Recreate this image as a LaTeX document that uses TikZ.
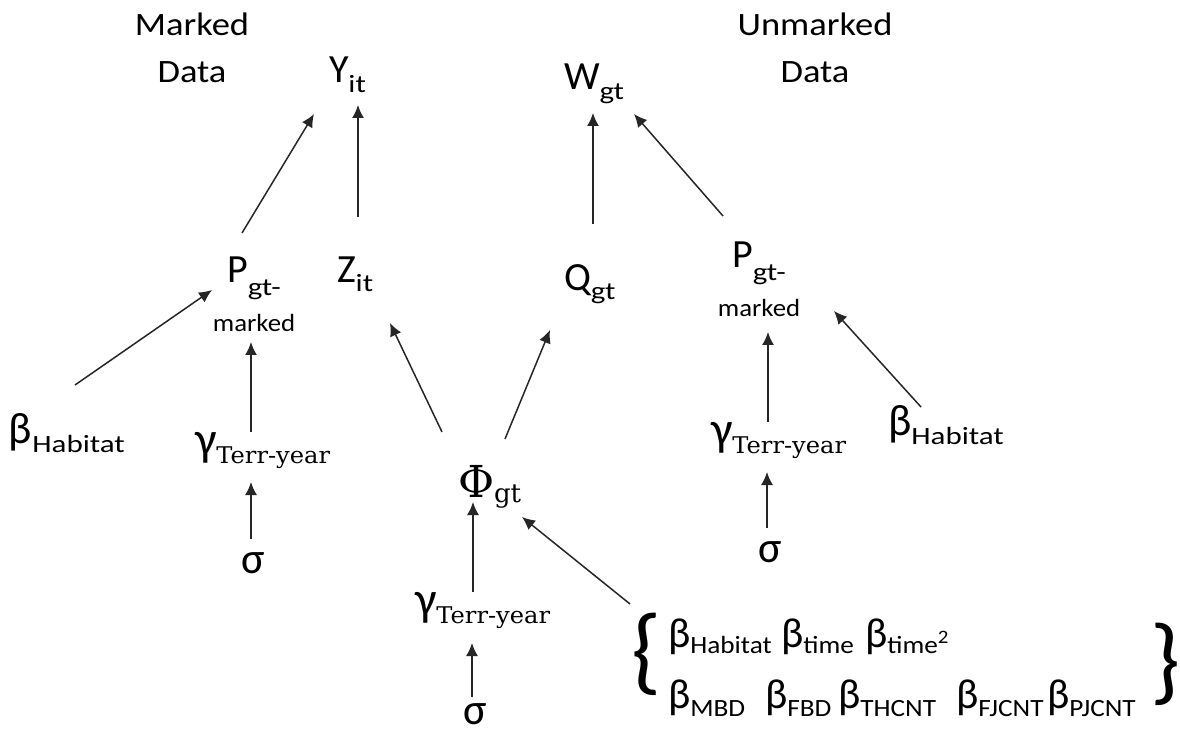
\documentclass[tikz,border=0pt]{standalone}
\usepackage{fontspec}
\setmainfont{Carlito}
\newfontfamily\subf[FakeStretch=1.25]{Carlito}
\newfontfamily\gsbf[FakeStretch=1.1]{Carlito}
\newfontfamily\mkf[FakeStretch=1.08]{Carlito}
\newfontfamily\titf[FakeStretch=1.12]{Carlito}
\newfontfamily\tyf[FakeStretch=1.05]{DejaVu Serif}
\newfontfamily\serf{DejaVu Serif}
\usetikzlibrary{arrows.meta,calc}

\newcommand\mainf{\fontsize{20}{24}\selectfont}
\newcommand\grk[2]{{\fontsize{#1}{24}\selectfont #2}}
\newcommand\sbs[2][4.8pt]{\raisebox{-#1}{\subf\fontsize{12.4}{14}\selectfont #2}}
\newcommand\gsb[2][4pt]{\raisebox{-#1}{\gsbf\fontsize{12.4}{14}\selectfont #2}}
\newcommand\tysub{\raisebox{-4pt}{\tyf\fontsize{11.5}{13}\selectfont Terr-year}}
\newcommand\cstack[3]{\vtop{\baselineskip=#1\lineskiplimit=-100pt\lineskip=0pt\halign{\hfil##\hfil\cr#2\cr#3\cr}}}
\newcommand\lstack[3]{\vtop{\baselineskip=#1\lineskiplimit=-100pt\lineskip=0pt\halign{##\hfil\cr#2\cr#3\cr}}}

\tikzset{
  lbl/.style={inner sep=0pt, outer sep=0pt, anchor=base west},
  arr/.style={-{Latex[length=6.5pt,width=6pt]}, line width=0.75pt, draw=black!85}
}

\begin{document}
\begin{tikzpicture}[x=0.5pt,y=-0.5pt]
\fill[white] (0,0) rectangle (1180,733);
\useasboundingbox (0,0) rectangle (1180,733);

% titles
\node[lbl,anchor=base] (tM) at (192,36) {\titf\fontsize{16.3}{20}\selectfont\cstack{23.5pt}{Marked}{Data}};
\node[lbl,anchor=base] (tU) at (815,36) {\titf\fontsize{16.3}{20}\selectfont\cstack{23.5pt}{Unmarked}{Data}};

% top
\node[lbl] (Y) at (329,83) {\mainf Y\sbs[5pt]{it}};
\node[lbl] (W) at (564,90) {\mainf W\sbs[5pt]{gt}};

% middle
\node[lbl,anchor=base] (PL) at (254,283) {\cstack{24.5pt}{\mainf P\sbs[6pt]{gt-}}{\mkf\fontsize{12.4}{14}\selectfont marked}};
\node[lbl] (Z) at (337,283) {\mainf Z\sbs[4.5pt]{it}};
\node[lbl] (Q) at (564,291) {\mainf Q\sbs[4.5pt]{gt}};
\node[lbl,anchor=base] (PR) at (759,268) {\cstack{24.5pt}{\mainf P\sbs[6pt]{gt-}}{\mkf\fontsize{12.4}{14}\selectfont marked}};

% lower
\node[lbl] (bL) at (9,444) {\grk{22}{β}\sbs[4.5pt]{Habitat}};
\node[lbl] (gL) at (195,455) {\grk{24}{γ}\tysub};
\node[lbl] (sL) at (241,573) {\grk{22}{σ}};
\node[lbl] (F) at (458,497) {\serf\fontsize{22}{26}\selectfont Φ\raisebox{-2.5pt}{\fontsize{13}{15}\selectfont gt}};
\node[lbl] (gM) at (415,615) {\grk{24}{γ}\tysub};
\node[lbl] (sM) at (463,724) {\grk{22}{σ}};
\node[lbl] (gR) at (711,445) {\grk{24}{γ}\tysub};
\node[lbl] (sR) at (758,562) {\grk{22}{σ}};
\node[lbl] (bR) at (888,435) {\grk{22}{β}\sbs[5pt]{Habitat}};

% covariate group
\node[inner sep=0pt] (lb) at (647,654) {\fontsize{48}{52}\selectfont\{};
\node[inner sep=0pt] (rb) at (1166,664) {\fontsize{48}{52}\selectfont\}};
\node[lbl] (grp) at (668,647) {\fontsize{21}{24}\selectfont\lstack{30.5pt}%
  {\makebox[56.5pt][l]{β\gsb[3pt]{Habitat}}\makebox[42pt][l]{β\gsb[3pt]{time}}β\gsb[3pt]{time\raisebox{5pt}{\fontsize{9.5}{10}\selectfont 2}}}%
  {\makebox[48.5pt][l]{β\gsb{MBD}}\makebox[36.5pt][l]{β\gsb{FBD}}\makebox[59pt][l]{β\gsb{THCNT}}\makebox[45.5pt][l]{β\gsb{FJCNT}}β\gsb{PJCNT}}};

% connectors
\draw[arr] ($(PL.base)+(-12,-50)$) -- ($(Y.base west)+(-15,31)$);
\draw[arr] ($(Z.base west)+(21,-66)$) -- ($(Y.base west)+(29,22)$);
\draw[arr] ($(Q.base west)+(29,-67)$) -- ($(W.base west)+(29,23)$);
\draw[arr] ($(PR.base)+(-36,-52)$) -- ($(W.base west)+(70,24)$);
\draw[arr] ($(bL.base west)+(66,-59)$) -- ($(PL.base)+(-42,7)$);
\draw[arr] ($(gL.base west)+(56,-23)$) -- ($(PL.base)+(-3,59)$);
\draw[arr] ($(sL.base west)+(10,-34)$) -- ($(gL.base west)+(56,27)$);
\draw[arr] ($(F.base west)+(-16,-65)$) -- ($(Z.base west)+(53,40)$);
\draw[arr] ($(F.base west)+(47,-58)$) -- ($(Q.base west)+(-14,39)$);
\draw[arr] ($(gM.base west)+(58,-23)$) -- ($(F.base west)+(15,5)$);
\draw[arr] ($(sM.base west)+(9,-27)$) -- ($(gM.base west)+(57,28)$);
\draw[arr] ($(grp.base west)+(-38,-43)$) -- ($(F.base west)+(64,20)$);
\draw[arr] ($(gR.base west)+(57,-23)$) -- ($(PR.base)+(9,64)$);
\draw[arr] ($(sR.base west)+(9,-34)$) -- ($(gR.base west)+(56,27)$);
\draw[arr] ($(bR.base west)+(33,-28)$) -- ($(PR.base)+(75,43)$);
\end{tikzpicture}
\end{document}
